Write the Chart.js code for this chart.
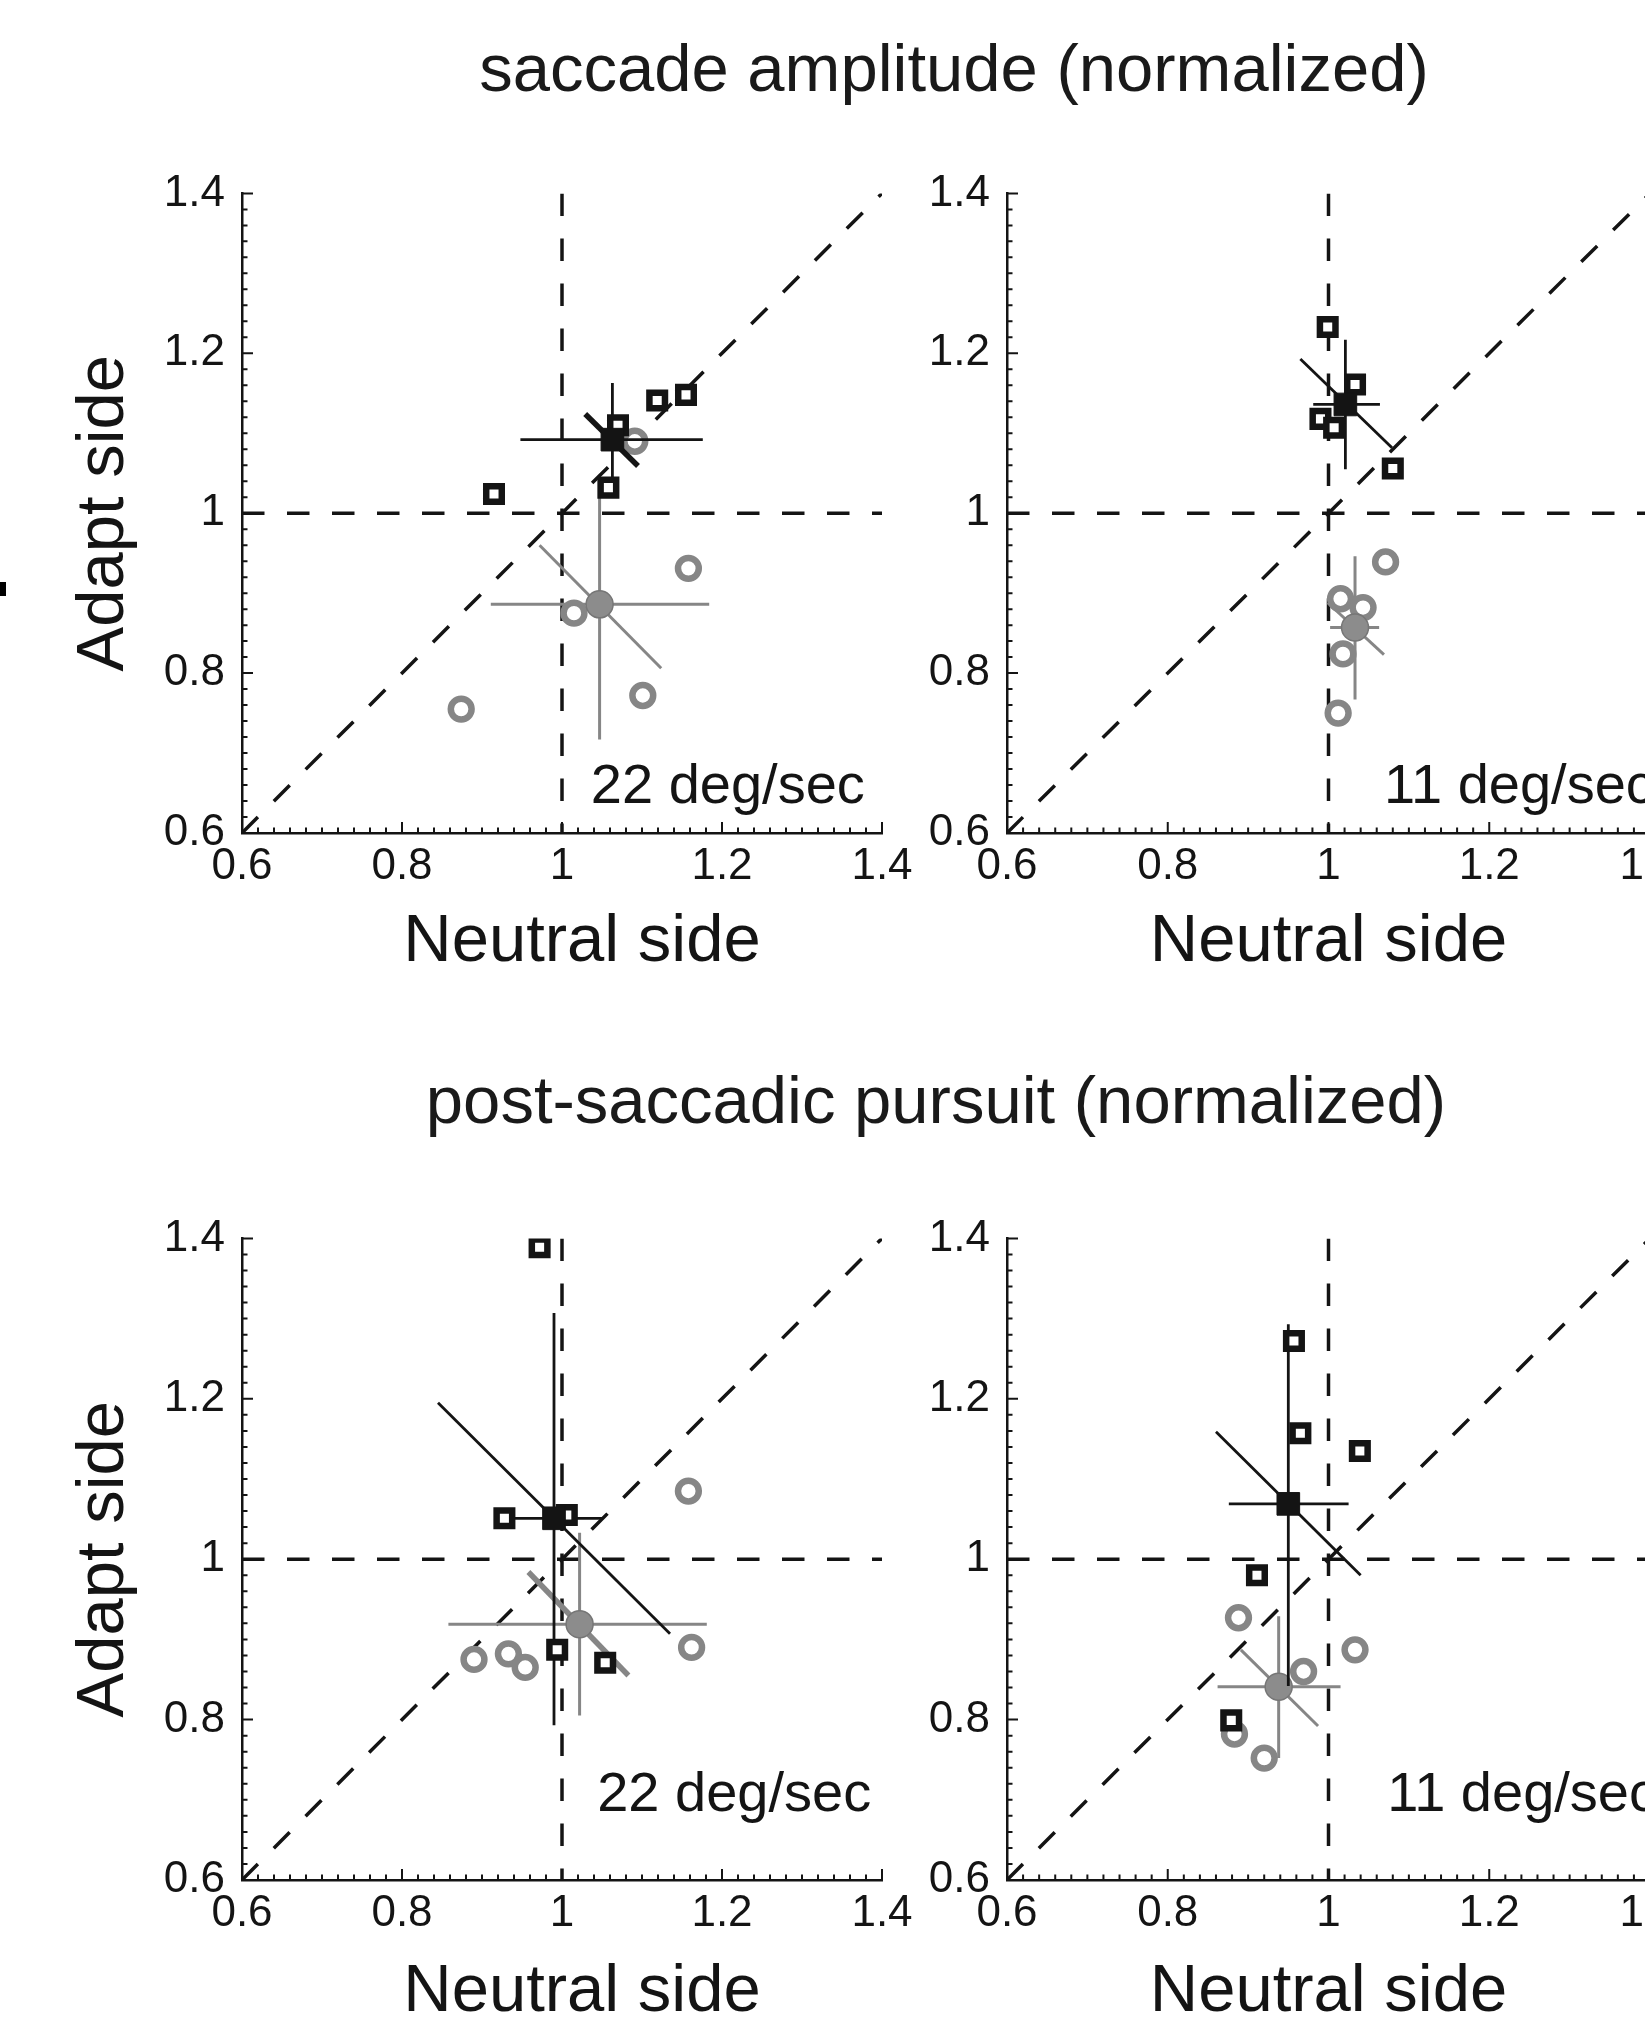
<!DOCTYPE html>
<html>
<head>
<meta charset="utf-8">
<script src="https://cdn.jsdelivr.net/npm/chart.js@4.4.0/dist/chart.umd.min.js"></script>
<style>
  html, body { margin: 0; padding: 0; background: #fff; overflow: hidden; }
  body { width: 1645px; height: 2030px; position: relative; font-family: 'Liberation Sans', Arial, sans-serif; color: #1a1a1a; }
  canvas { position: absolute; }
  .title { position: absolute; font-size: 67px; line-height: 67px; white-space: nowrap; transform: translateX(-50%); }
</style>
</head>
<body>
<div class="title" style="left:954px; top:34px;">saccade amplitude (normalized)</div>
<div class="title" style="left:936px; top:1066px;">post-saccadic pursuit (normalized)</div>
<div style="position:absolute; left:0; top:582px; width:6px; height:14px; background:#000;"></div>
<canvas id="sa22" width="940" height="850" style="left:0; top:150px;"></canvas>
<canvas id="sa11" width="800" height="850" style="left:900px; top:150px;"></canvas>
<canvas id="pu22" width="940" height="845" style="left:0; top:1195px;"></canvas>
<canvas id="pu11" width="800" height="845" style="left:900px; top:1195px;"></canvas>
<script>
// axes
const tickValues = [0.6, 0.8, 1, 1.2, 1.4];
const tickLabels = ['0.6', '0.8', '1', '1.2', '1.4'];
const speeds = ['22 deg/sec', '11 deg/sec'];

// saccade amplitude, 22 deg/sec
const sa22SquareX = [0.915, 1.058, 1.070, 1.119, 1.155];
const sa22SquareY = [1.024, 1.032, 1.110, 1.141, 1.148];
const sa22CircleX = [0.874, 1.015, 1.101, 1.158, 1.091];
const sa22CircleY = [0.755, 0.875, 0.772, 0.931, 1.090];
const sa22SquareMean = [1.063, 1.092];
const sa22SquareXErr = [0.948, 1.176];
const sa22SquareYErr = [1.024, 1.163];
const sa22SquareDiag = [[1.029, 1.124], [1.095, 1.059]];
const sa22CircleMean = [1.047, 0.886];
const sa22CircleXErr = [0.911, 1.184];
const sa22CircleYErr = [1.023, 0.717];
const sa22CircleDiag = [[0.972, 0.960], [1.124, 0.806]];

// saccade amplitude, 11 deg/sec
const sa11SquareX = [0.999, 1.033, 0.990, 1.007, 1.080];
const sa11SquareY = [1.233, 1.161, 1.118, 1.107, 1.056];
const sa11CircleX = [1.071, 1.015, 1.043, 1.018, 1.012];
const sa11CircleY = [0.939, 0.893, 0.882, 0.824, 0.750];
const sa11SquareMean = [1.021, 1.136];
const sa11SquareXErr = [0.981, 1.064];
const sa11SquareYErr = [1.217, 1.055];
const sa11SquareDiag = [[0.965, 1.193], [1.079, 1.082]];
const sa11CircleMean = [1.033, 0.857];
const sa11CircleXErr = [1.002, 1.063];
const sa11CircleYErr = [0.946, 0.767];
const sa11CircleDiag = [[0.999, 0.888], [1.069, 0.823]];

// post-saccadic pursuit, 22 deg/sec
const pu22SquareX = [0.972, 0.928, 1.006, 0.994, 1.054];
const pu22SquareY = [1.389, 1.051, 1.055, 0.887, 0.871];
const pu22CircleX = [0.890, 0.933, 0.954, 1.158, 1.162];
const pu22CircleY = [0.875, 0.882, 0.865, 1.085, 0.890];
const pu22SquareMean = [0.990, 1.051];
const pu22SquareXErr = [0.929, 1.051];
const pu22SquareYErr = [1.307, 0.793];
const pu22SquareDiag = [[0.845, 1.195], [1.135, 0.907]];
const pu22CircleMean = [1.022, 0.919];
const pu22CircleXErr = [0.858, 1.181];
const pu22CircleYErr = [1.033, 0.805];
const pu22CircleDiag = [[0.958, 0.984], [1.083, 0.855]];

// post-saccadic pursuit, 11 deg/sec
const pu11SquareX = [0.957, 0.965, 1.039, 0.911, 0.879];
const pu11SquareY = [1.272, 1.157, 1.135, 0.980, 0.799];
const pu11CircleX = [0.888, 1.033, 0.969, 0.883, 0.920];
const pu11CircleY = [0.927, 0.887, 0.860, 0.782, 0.752];
const pu11SquareMean = [0.950, 1.069];
const pu11SquareXErr = [0.876, 1.025];
const pu11SquareYErr = [1.293, 0.842];
const pu11SquareDiag = [[0.860, 1.159], [1.040, 0.980]];
const pu11CircleMean = [0.938, 0.841];
const pu11CircleXErr = [0.862, 1.015];
const pu11CircleYErr = [0.929, 0.752];
const pu11CircleDiag = [[0.891, 0.887], [0.987, 0.792]];

const FONT = "'Liberation Sans', Arial, Helvetica, sans-serif";
const INK = '#141414';
const GRAY = '#868686';
const DASH = [22.5, 22.5];
const axisMin = 0.6, axisMax = 1.4, minorStep = 0.02;

function line(points, color, width, dash, order) {
  return {
    data: points.map(([x, y]) => ({x, y})),
    showLine: true, borderColor: color, borderWidth: width, borderDash: dash,
    pointRadius: 0, tension: 0, order: order
  };
}

function points(xs, ys) {
  return xs.map((x, i) => ({x: x, y: ys[i]}));
}

function datasets(p) {
  return [
    line([[axisMin, axisMin], [axisMax, axisMax]], INK, 3.5, DASH, 20),
    line([[axisMin, 1], [axisMax, 1]], INK, 3.5, DASH, 20),
    line([[1, axisMax], [1, axisMin]], INK, 3.5, DASH, 20),
    line([[p.circleXErr[0], p.circleMean[1]], [p.circleXErr[1], p.circleMean[1]]], GRAY, 3, [], 16),
    line([[p.circleMean[0], p.circleYErr[0]], [p.circleMean[0], p.circleYErr[1]]], GRAY, 3, [], 16),
    line(p.circleDiag, GRAY, p.thickGray ? 5.5 : 3, [], 16),
    {data: points(p.circleX, p.circleY), pointStyle: 'circle', pointRadius: 10.4, borderWidth: 6.5,
     borderColor: GRAY, backgroundColor: '#fff', order: 15},
    {data: [{x: p.circleMean[0], y: p.circleMean[1]}], pointStyle: 'circle', pointRadius: 13.5, borderWidth: 1.5,
     borderColor: '#767676', backgroundColor: '#8c8c8c', order: 14},
    line([[p.squareXErr[0], p.squareMean[1]], [p.squareXErr[1], p.squareMean[1]]], INK, 2.8, [], 13),
    line([[p.squareMean[0], p.squareYErr[0]], [p.squareMean[0], p.squareYErr[1]]], INK, 2.8, [], 13),
    line(p.squareDiag, INK, p.thickBlack ? 5.5 : 2.8, [], 13),
    {data: points(p.squareX, p.squareY), pointStyle: 'rect', pointRadius: 11, borderWidth: 6.5,
     borderColor: INK, backgroundColor: '#fff', order: 12},
    {data: [{x: p.squareMean[0], y: p.squareMean[1]}], pointStyle: 'rect', pointRadius: 16, borderWidth: 1,
     borderColor: INK, backgroundColor: INK, order: 11}
  ];
}

const inwardTicks = {
  id: 'inwardTicks',
  afterDatasetsDraw(chart) {
    const {ctx, chartArea} = chart;
    const x = chart.scales.x, y = chart.scales.y;
    const n = Math.round((axisMax - axisMin) / minorStep);
    ctx.save();
    ctx.strokeStyle = INK;
    ctx.lineWidth = 2;
    ctx.beginPath();
    for (let k = 0; k <= n; k++) {
      const v = axisMin + k * minorStep;
      const len = k % 10 === 0 ? 11 : 5.5;
      const px = x.getPixelForValue(v), py = y.getPixelForValue(v);
      ctx.moveTo(px, chartArea.bottom);
      ctx.lineTo(px, chartArea.bottom - len);
      ctx.moveTo(chartArea.left, py);
      ctx.lineTo(chartArea.left + len, py);
    }
    ctx.stroke();
    ctx.restore();
  }
};

// speed note inside the plot, and the x axis title (shifted as in the figure)
const panelText = {
  id: 'panelText',
  afterDatasetsDraw(chart, args, opts) {
    const {ctx, chartArea} = chart;
    ctx.save();
    ctx.fillStyle = INK;
    ctx.font = '56px ' + FONT;
    ctx.textAlign = 'left';
    ctx.textBaseline = 'alphabetic';
    ctx.fillText(opts.speed, chart.scales.x.getPixelForValue(opts.speedAt[0]), chart.scales.y.getPixelForValue(opts.speedAt[1]));
    ctx.font = '67px ' + FONT;
    ctx.textAlign = 'center';
    ctx.textBaseline = 'middle';
    ctx.fillText(opts.xTitle, (chartArea.left + chartArea.right) / 2 + opts.xTitleShift, chartArea.bottom + opts.xTitleDrop);
    ctx.restore();
  }
};

function scale(axis, fitSize, title, titlePad) {
  const isX = axis === 'x';
  return {
    type: 'linear', min: axisMin, max: axisMax,
    position: isX ? 'bottom' : 'left',
    afterBuildTicks: s => { s.ticks = tickValues.map(v => ({value: v})); },
    afterFit: s => { if (isX) s.height = fitSize; else s.width = fitSize; },
    grid: {display: false, drawTicks: false},
    border: {display: true, color: INK, width: 2.5},
    ticks: {
      autoSkip: false, maxRotation: 0, padding: isX ? 7 : 17,
      color: INK, font: {family: FONT, size: 44},
      callback: (v, i) => tickLabels[i]
    },
    title: title ? {
      display: true, text: title, color: INK, font: {family: FONT, size: 67},
      padding: {top: titlePad, bottom: 0}
    } : {display: false}
  };
}

function makePanel(id, p, cfg) {
  new Chart(document.getElementById(id), {
    type: 'scatter',
    data: {datasets: datasets(p)},
    options: {
      responsive: false, animation: false, events: [],
      layout: {autoPadding: false, padding: cfg.padding},
      plugins: {legend: {display: false}, tooltip: {enabled: false},
                panelText: {speed: cfg.speed, speedAt: cfg.speedAt, xTitle: 'Neutral side',
                            xTitleShift: cfg.xTitleShift, xTitleDrop: cfg.xTitleDrop}},
      scales: {
        x: scale('x', cfg.xFit, null, 0),
        y: scale('y', cfg.yFit, cfg.yTitle, 64)
      }
    },
    plugins: [inwardTicks, panelText]
  });
}

makePanel('sa22', {
  squareX: sa22SquareX, squareY: sa22SquareY, circleX: sa22CircleX, circleY: sa22CircleY,
  squareMean: sa22SquareMean, squareXErr: sa22SquareXErr, squareYErr: sa22SquareYErr, squareDiag: sa22SquareDiag,
  circleMean: sa22CircleMean, circleXErr: sa22CircleXErr, circleYErr: sa22CircleYErr, circleDiag: sa22CircleDiag,
  thickBlack: true
}, {padding: {left: 0, right: 58, top: 42, bottom: 0}, xFit: 167, yFit: 242, xTitleShift: 20, xTitleDrop: 110,
    yTitle: 'Adapt side', speed: speeds[0], speedAt: [1.036, 0.637]});

makePanel('sa11', {
  squareX: sa11SquareX, squareY: sa11SquareY, circleX: sa11CircleX, circleY: sa11CircleY,
  squareMean: sa11SquareMean, squareXErr: sa11SquareXErr, squareYErr: sa11SquareYErr, squareDiag: sa11SquareDiag,
  circleMean: sa11CircleMean, circleXErr: sa11CircleXErr, circleYErr: sa11CircleYErr, circleDiag: sa11CircleDiag
}, {padding: {left: 0, right: 50, top: 42, bottom: 0}, xFit: 167, yFit: 107, xTitleShift: 0, xTitleDrop: 110,
    yTitle: null, speed: speeds[1], speedAt: [1.069, 0.637]});

makePanel('pu22', {
  squareX: pu22SquareX, squareY: pu22SquareY, circleX: pu22CircleX, circleY: pu22CircleY,
  squareMean: pu22SquareMean, squareXErr: pu22SquareXErr, squareYErr: pu22SquareYErr, squareDiag: pu22SquareDiag,
  circleMean: pu22CircleMean, circleXErr: pu22CircleXErr, circleYErr: pu22CircleYErr, circleDiag: pu22CircleDiag,
  thickGray: true
}, {padding: {left: 0, right: 58, top: 43, bottom: 0}, xFit: 160, yFit: 242, xTitleShift: 20, xTitleDrop: 113,
    yTitle: 'Adapt side', speed: speeds[0], speedAt: [1.044, 0.686]});

makePanel('pu11', {
  squareX: pu11SquareX, squareY: pu11SquareY, circleX: pu11CircleX, circleY: pu11CircleY,
  squareMean: pu11SquareMean, squareXErr: pu11SquareXErr, squareYErr: pu11SquareYErr, squareDiag: pu11SquareDiag,
  circleMean: pu11CircleMean, circleXErr: pu11CircleXErr, circleYErr: pu11CircleYErr, circleDiag: pu11CircleDiag
}, {padding: {left: 0, right: 50, top: 43, bottom: 0}, xFit: 160, yFit: 107, xTitleShift: 0, xTitleDrop: 113,
    yTitle: null, speed: speeds[1], speedAt: [1.073, 0.686]});
</script>
</body>
</html>
